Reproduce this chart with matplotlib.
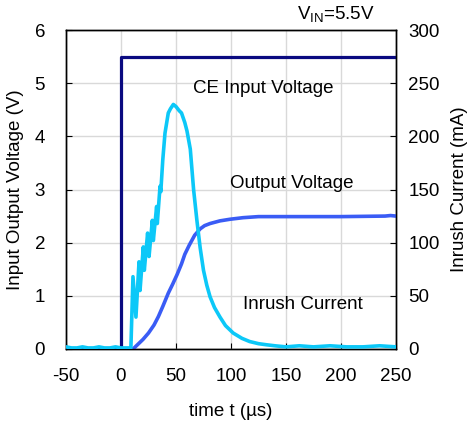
import numpy as np
import matplotlib.pyplot as plt

plt.rcParams['font.family'] = ['Liberation Sans', 'DejaVu Sans']
plt.rcParams['axes.unicode_minus'] = False

# CE input voltage (V)
ce_t = [-50, 0, 0, 250]
ce_v = [0, 0, 5.5, 5.5]

# output voltage (V)
out_t = [-50, 11, 15, 20, 25, 30, 34, 38, 43, 47, 51, 55, 58, 62, 67, 72, 76, 81,
         90, 99, 111, 125, 160, 200, 240, 245, 250]
out_v = [0, 0, 0.08, 0.18, 0.3, 0.45, 0.61, 0.8, 1.05, 1.22, 1.4, 1.6, 1.78, 1.95,
         2.14, 2.26, 2.32, 2.36, 2.41, 2.44, 2.47, 2.49, 2.49, 2.49, 2.5, 2.51, 2.5]

# inrush current (mA)
cur_t = [-50, -45, -40, -35, -30, -25, -20, -15, -10, -5, 0, 5, 9, 10.9, 13.6, 16.4,
         17.3, 20.3, 21.2, 24.2, 25.5, 28.5, 29.4, 32.4, 33, 35.5, 36.2, 38, 40, 43,
         45, 47.6, 50, 53, 55, 58, 60, 63, 66, 69, 72, 75, 78, 81, 85, 90, 95, 102,
         110, 117, 125, 132, 140, 150, 162, 175, 190, 205, 220, 235, 250]
cur_i = [2, 1, 1, 2, 1, 1, 2, 1, 1, 2, 1, 1, 1, 68, 30, 82,
         55, 96, 74, 109, 87, 121, 102, 134, 118, 153, 148, 178, 203, 222,
         226, 230, 228, 224, 222, 213, 205, 188, 150, 121, 95, 74, 60, 49, 39, 30, 22,
         15, 10, 7, 5, 4, 3, 2, 3, 2, 3, 2, 2, 3, 2]

fig = plt.figure(figsize=(4.73, 4.30), dpi=100)
ax = fig.add_axes([0.1395, 0.1884, 0.6977, 0.7418])
ax2 = ax.twinx()

ax.plot(ce_t, ce_v, color='#0a0a80', lw=2.3, zorder=3)
ax.plot(out_t, out_v, color='#3a5cf5', lw=2.6, zorder=4)
ax2.plot(cur_t, cur_i, color='#0cc8f8', lw=2.6, zorder=3)

ax.set_xlim(-50, 250)
ax.set_ylim(0, 6)
ax2.set_ylim(0, 300)
ax.set_xticks(np.arange(-50, 251, 50))
ax.set_yticks(np.arange(0, 7, 1))
ax2.set_yticks(np.arange(0, 301, 50))
ax.grid(True, color='#d9d9d9', lw=1)
ax.set_axisbelow(True)

for a in (ax, ax2):
    a.tick_params(direction='in', labelsize=13.5, length=4, width=0.8)
    for s in a.spines.values():
        s.set_color('black')
        s.set_linewidth(1)
ax.tick_params(axis='x', pad=14)
ax.tick_params(axis='y', pad=15)
ax2.tick_params(axis='y', pad=9)

ax.set_xlabel('time t (µs)', fontsize=13.5, labelpad=13)
ax.set_ylabel('Input Output Voltage (V)', fontsize=13.5, labelpad=8)
ax2.set_ylabel('Inrush Current (mA)', fontsize=13.5, labelpad=8)

ax.text(129, 4.9, 'CE Input Voltage', fontsize=13.5, ha='center', va='center')
ax.text(155, 3.12, 'Output Voltage', fontsize=13.5, ha='center', va='center')
ax.text(165, 0.83, 'Inrush Current', fontsize=13.5, ha='center', va='center')
ax.text(195, 6.1, 'V$_{\\mathregular{IN}}$=5.5V', fontsize=13.5, ha='center', va='bottom')

fig.savefig('out.png', dpi=100)
